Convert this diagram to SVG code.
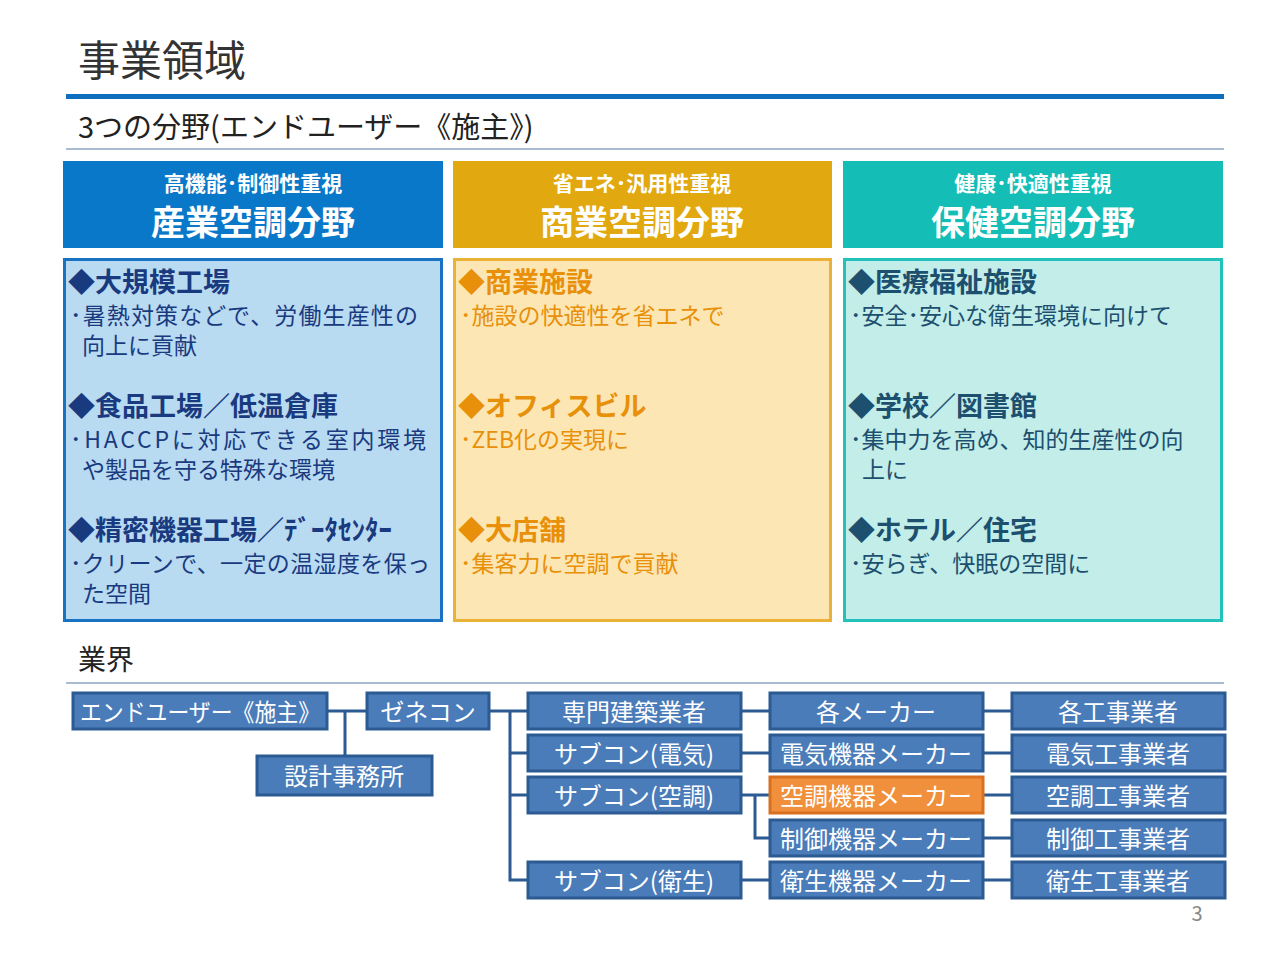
<svg xmlns="http://www.w3.org/2000/svg" width="1280" height="960" viewBox="0 0 1280 960">
<style>
text{font-family:"Noto Sans CJK JP","Noto Sans",sans-serif}
.hs{font-size:21px;font-weight:bold;fill:#fff;text-anchor:middle}
.hb{font-size:34px;font-weight:bold;fill:#fff;text-anchor:middle}
.ih{font-size:27px;font-weight:bold}
.it{font-size:23px}
.c1{fill:#1a3a80}.c2{fill:#e8900a}.c3{fill:#1d4f6e}
.nb rect{fill:#4a7cba;stroke:#2b5b92;stroke-width:3}
.nb text{font-size:24px;fill:#fff;text-anchor:middle}
.cn{stroke:#2b5b92;stroke-width:3;fill:none}
</style>
<rect width="1280" height="960" fill="#fff"/>
<text x="78" y="76" font-size="42" fill="#333">事業領域</text>
<rect x="66" y="94" width="1158" height="5" fill="#0d6fbd"/>
<text x="78" y="138" font-size="29" fill="#222">3つの分野(エンドユーザー《施主》)</text>
<line x1="66" y1="149" x2="1224" y2="149" stroke="#8aa6c0" stroke-width="1.5"/>

<g id="col1">
<rect x="63" y="161" width="380" height="87" fill="#0a78c8"/>
<text class="hs" x="253" y="191">高機能･制御性重視</text>
<text class="hb" x="253" y="235">産業空調分野</text>
<rect x="64.5" y="259.5" width="377" height="361" fill="#b9dbf2" stroke="#1a72c2" stroke-width="3"/>
<text class="ih c1" x="68" y="292">◆大規模工場</text>
<text class="it c1" x="70" y="324" textLength="348">･暑熱対策などで、労働生産性の</text>
<text class="it c1" x="82" y="354">向上に貢献</text>
<text class="ih c1" x="68" y="416">◆食品工場／低温倉庫</text>
<text class="it c1" x="70" y="448" textLength="356">･HACCPに対応できる室内環境</text>
<text class="it c1" x="82" y="478">や製品を守る特殊な環境</text>
<text class="ih c1" x="68" y="540">◆精密機器工場／ﾃﾞｰﾀｾﾝﾀｰ</text>
<text class="it c1" x="70" y="572" textLength="360">･クリーンで、一定の温湿度を保っ</text>
<text class="it c1" x="82" y="602">た空間</text>
</g>
<g id="col2">
<rect x="453" y="161" width="379" height="87" fill="#e1a90f"/>
<text class="hs" x="642" y="191">省エネ･汎用性重視</text>
<text class="hb" x="642" y="235">商業空調分野</text>
<rect x="454.5" y="259.5" width="376" height="361" fill="#fce7b4" stroke="#eab338" stroke-width="3"/>
<text class="ih c2" x="458" y="292">◆商業施設</text>
<text class="it c2" x="460" y="324">･施設の快適性を省エネで</text>
<text class="ih c2" x="458" y="416">◆オフィスビル</text>
<text class="it c2" x="460" y="448">･ZEB化の実現に</text>
<text class="ih c2" x="458" y="540">◆大店舗</text>
<text class="it c2" x="460" y="572">･集客力に空調で貢献</text>
</g>
<g id="col3">
<rect x="843" y="161" width="380" height="87" fill="#14bdb5"/>
<text class="hs" x="1033" y="191">健康･快適性重視</text>
<text class="hb" x="1033" y="235">保健空調分野</text>
<rect x="844.5" y="259.5" width="377" height="361" fill="#c2ede9" stroke="#22c1b9" stroke-width="3"/>
<text class="ih c3" x="848" y="292">◆医療福祉施設</text>
<text class="it c3" x="850" y="324">･安全･安心な衛生環境に向けて</text>
<text class="ih c3" x="848" y="416">◆学校／図書館</text>
<text class="it c3" x="850" y="448">･集中力を高め、知的生産性の向</text>
<text class="it c3" x="862" y="478">上に</text>
<text class="ih c3" x="848" y="540">◆ホテル／住宅</text>
<text class="it c3" x="850" y="572">･安らぎ、快眠の空間に</text>
</g>

<text x="78" y="670" font-size="28" fill="#222">業界</text>
<line x1="66" y1="683" x2="1224" y2="683" stroke="#8aa6c0" stroke-width="1.5"/>

<g id="connectors" class="cn">
<path d="M327 711H367M345 711V756"/>
<path d="M489 711H528M510 711V880H528M510 753H528M510 795H528"/>
<path d="M741 711H770M741 753H770M741 795H770M755 795V838H770M741 880H770"/>
<path d="M983 711H1012M983 753H1012M983 795H1012M983 838H1012M983 880H1012"/>
</g>

<g id="n-enduser" class="nb"><rect x="73" y="693" width="254" height="36"/><text x="200" y="721" textLength="240" lengthAdjust="spacingAndGlyphs">エンドユーザー《施主》</text></g>
<g id="n-zenecon" class="nb"><rect x="367" y="693" width="122" height="36"/><text x="428" y="721">ゼネコン</text></g>
<g id="n-sekkei" class="nb"><rect x="257" y="756" width="175" height="39"/><text x="344" y="785">設計事務所</text></g>
<g id="n-senmon" class="nb"><rect x="528" y="693" width="213" height="36"/><text x="634" y="721">専門建築業者</text></g>
<g id="n-sub-elec" class="nb"><rect x="528" y="735" width="213" height="36"/><text x="634" y="763">サブコン(電気)</text></g>
<g id="n-sub-ac" class="nb"><rect x="528" y="777" width="213" height="36"/><text x="634" y="805">サブコン(空調)</text></g>
<g id="n-sub-san" class="nb"><rect x="528" y="862" width="213" height="36"/><text x="634" y="890">サブコン(衛生)</text></g>
<g id="n-maker" class="nb"><rect x="770" y="693" width="213" height="36"/><text x="876" y="721">各メーカー</text></g>
<g id="n-elec-maker" class="nb"><rect x="770" y="735" width="213" height="36"/><text x="876" y="763">電気機器メーカー</text></g>
<g id="n-ac-maker" class="nb"><rect x="770" y="777" width="213" height="36" style="fill:#f0903c;stroke:#d87020"/><text x="876" y="805">空調機器メーカー</text></g>
<g id="n-ctrl-maker" class="nb"><rect x="770" y="820" width="213" height="36"/><text x="876" y="848">制御機器メーカー</text></g>
<g id="n-san-maker" class="nb"><rect x="770" y="862" width="213" height="36"/><text x="876" y="890">衛生機器メーカー</text></g>
<g id="n-kouji" class="nb"><rect x="1012" y="693" width="213" height="36"/><text x="1118" y="721">各工事業者</text></g>
<g id="n-elec-kouji" class="nb"><rect x="1012" y="735" width="213" height="36"/><text x="1118" y="763">電気工事業者</text></g>
<g id="n-ac-kouji" class="nb"><rect x="1012" y="777" width="213" height="36"/><text x="1118" y="805">空調工事業者</text></g>
<g id="n-ctrl-kouji" class="nb"><rect x="1012" y="820" width="213" height="36"/><text x="1118" y="848">制御工事業者</text></g>
<g id="n-san-kouji" class="nb"><rect x="1012" y="862" width="213" height="36"/><text x="1118" y="890">衛生工事業者</text></g>

<text x="1197" y="921" font-size="20" fill="#888" text-anchor="middle">3</text>
</svg>
